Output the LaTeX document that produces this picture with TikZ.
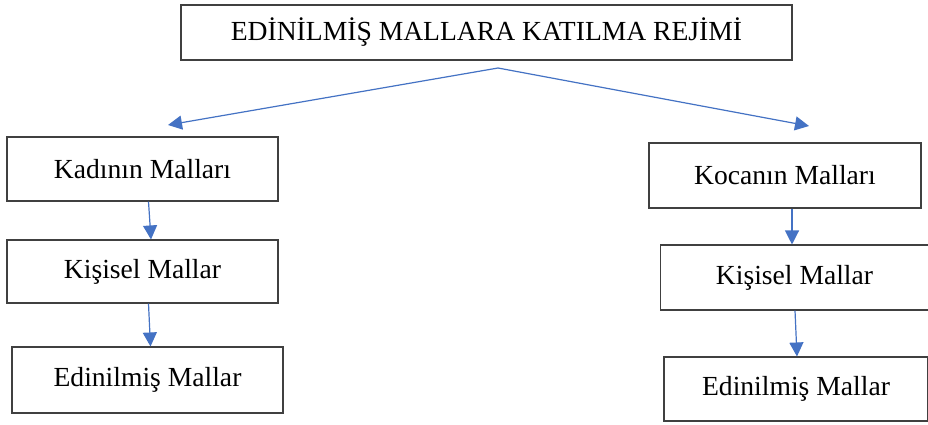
\documentclass[tikz,border=0pt]{standalone}
\usepackage{fontspec}
\setmainfont{Liberation Serif}
\usetikzlibrary{arrows.meta,calc}
\definecolor{arrowblue}{HTML}{4472C4}
\definecolor{boxline}{HTML}{404040}
\tikzset{
  box/.style={draw=boxline, line width=1.1pt, rectangle, inner sep=0pt, font=\fontsize{27.6}{32}\selectfont},
  conn/.style={draw=arrowblue, line width=1.2pt, -{Triangle[length=14pt,width=14pt]}}
}
\begin{document}
\begin{tikzpicture}[x=1pt,y=-1pt]
\useasboundingbox (0,0) rectangle (928,424);
\fill[white] (0,0) rectangle (928,424);
\node[box, minimum width=611pt, minimum height=55pt] (top) at (486.5,32.5) {EDİNİLMİŞ MALLARA KATILMA REJİMİ};
\node[box, minimum width=271pt, minimum height=64pt] (kad) at (142.5,169) {Kadının Malları};
\node[box, minimum width=271pt, minimum height=63pt] (kis1) at (142.5,271.5) {Kişisel Mallar};
\node[box, minimum width=271pt, minimum height=66pt] (edn1) at (147.5,380) {Edinilmiş Mallar};
\node[box, minimum width=272pt, minimum height=65pt] (koc) at (785,175.5) {Kocanın Malları};
\node[box, minimum width=268pt, minimum height=65pt] (kis2) at (794.5,277.5) {Kişisel Mallar};
\node[box, minimum width=264pt, minimum height=64pt] (edn2) at (796,389) {Edinilmiş Mallar};
\coordinate (apex) at (498,68);
\coordinate (lt) at (168,125);
\coordinate (rt) at (809,126);
\draw[conn] (apex) -- (lt);
\draw[conn] (apex) -- (rt);
\draw[conn] ([xshift=6pt]kad.south) -- ([xshift=8.5pt]kis1.north);
\draw[conn] ([xshift=6pt]kis1.south) -- ([xshift=3pt]edn1.north);
\draw[conn] ([xshift=7pt]koc.south) -- ([xshift=-2.5pt]kis2.north);
\draw[conn] ([xshift=0.5pt]kis2.south) -- ([xshift=1pt]edn2.north);
\end{tikzpicture}
\end{document}
